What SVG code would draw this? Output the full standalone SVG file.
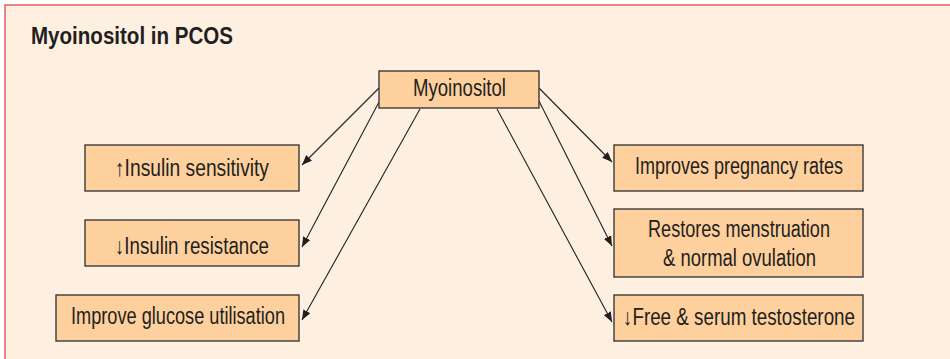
<svg xmlns="http://www.w3.org/2000/svg" width="950" height="359" viewBox="0 0 950 359">
<style>
.bg{fill:#fef0e1;stroke:#e8676d;stroke-width:1.6}
.box{fill:#fed09d;stroke:#3c3a3a;stroke-width:1.4}
.t{font-family:"Liberation Sans Narrow","Liberation Sans",Arial,sans-serif;font-size:23.5px;fill:#231f20}
.title{font-family:"Liberation Sans Narrow","Liberation Sans",Arial,sans-serif;font-size:24.5px;font-weight:bold;fill:#231f20}
.c line{stroke:#231f20;stroke-width:1.1;fill:none}
</style>
<defs>
<marker id="ah" markerUnits="userSpaceOnUse" markerWidth="10" markerHeight="8" refX="10" refY="4" orient="auto">
<path d="M0,0 L10,4 L0,8 z" fill="#231f20"/>
</marker>
</defs>
<rect x="0" y="0" width="950" height="359" fill="#ffffff"/>
<rect class="bg" x="5" y="5" width="960" height="370"/>
<text class="title" x="31" y="43.5" textLength="202" lengthAdjust="spacingAndGlyphs">Myoinositol in PCOS</text>
<g class="c" id="connectors">
<line x1="379" y1="88" x2="302" y2="165" marker-end="url(#ah)"/>
<line x1="379" y1="102" x2="302" y2="247" marker-end="url(#ah)"/>
<line x1="420" y1="109" x2="302" y2="320" marker-end="url(#ah)"/>
<line x1="539" y1="88" x2="612" y2="162" marker-end="url(#ah)"/>
<line x1="539" y1="101" x2="612" y2="246" marker-end="url(#ah)"/>
<line x1="497" y1="109" x2="612" y2="322" marker-end="url(#ah)"/>
</g>
<g id="myoinositol">
<rect class="box" x="379" y="71" width="160" height="37"/>
<text class="t" x="413" y="96" textLength="93" lengthAdjust="spacingAndGlyphs">Myoinositol</text>
</g>
<g id="insulin-sensitivity">
<rect class="box" x="85" y="145" width="214" height="46"/>
<text class="t" x="115" y="176" textLength="154" lengthAdjust="spacingAndGlyphs">↑Insulin sensitivity</text>
</g>
<g id="insulin-resistance">
<rect class="box" x="85" y="220" width="214" height="46"/>
<text class="t" x="115" y="254" textLength="154" lengthAdjust="spacingAndGlyphs">↓Insulin resistance</text>
</g>
<g id="glucose">
<rect class="box" x="56" y="295" width="243" height="46"/>
<text class="t" x="71" y="323.5" textLength="214" lengthAdjust="spacingAndGlyphs">Improve glucose utilisation</text>
</g>
<g id="pregnancy">
<rect class="box" x="614" y="145" width="249" height="46"/>
<text class="t" x="635" y="174" textLength="208" lengthAdjust="spacingAndGlyphs">Improves pregnancy rates</text>
</g>
<g id="menstruation">
<rect class="box" x="614" y="209" width="249" height="68"/>
<text class="t" x="648" y="237" textLength="182" lengthAdjust="spacingAndGlyphs">Restores menstruation</text>
<text class="t" x="663" y="266" textLength="153" lengthAdjust="spacingAndGlyphs">&amp; normal ovulation</text>
</g>
<g id="testosterone">
<rect class="box" x="614" y="295" width="249" height="46"/>
<text class="t" x="623" y="325" textLength="232" lengthAdjust="spacingAndGlyphs">↓Free &amp; serum testosterone</text>
</g>
</svg>
